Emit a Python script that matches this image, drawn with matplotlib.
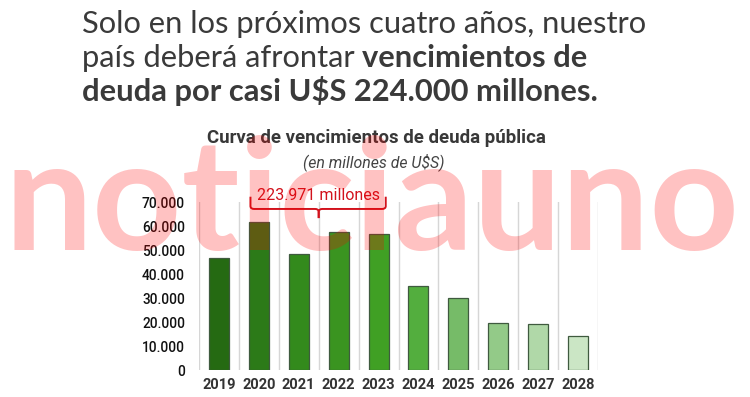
import matplotlib
matplotlib.use("Agg")
import matplotlib.pyplot as plt
import numpy as np
from matplotlib.path import Path
from matplotlib.patches import PathPatch

years = ["2019", "2020", "2021", "2022", "2023", "2024", "2025", "2026", "2027", "2028"]
values = [46500, 61800, 48200, 57500, 56500, 35000, 30100, 19700, 19000, 14200]
bar_colors = ["#256a12", "#2c7a18", "#338a1c", "#3a9420", "#40a024",
              "#53ae3e", "#76bb68", "#93ca88", "#b0d8a8", "#cbe6c5"]
y_ticks = [0, 10000, 20000, 30000, 40000, 50000, 60000, 70000]
y_tick_labels = ["0", "10.000", "20.000", "30.000", "40.000", "50.000", "60.000", "70.000"]
bracket_range = (1, 4)  # 2020..2023
bracket_label = "223.971 millones"

W, H = 750, 397
fig = plt.figure(figsize=(W / 100, H / 100), dpi=100)
fig.patch.set_facecolor("white")
renderer = fig.canvas.get_renderer()


def fit(t, target_px):
    bb = t.get_window_extent(renderer=renderer)
    t.set_fontsize(t.get_fontsize() * target_px / bb.width)


left, right, top, bottom = 199, 598, 202, 370
ax = fig.add_axes([left / W, 1 - bottom / H, (right - left) / W, (bottom - top) / H])

x = np.arange(len(years))
ax.bar(x, values, width=0.5, color=bar_colors, edgecolor="#3f5a3f", linewidth=0.9, zorder=3)
ax.set_xlim(-0.5, len(years) - 0.5)
ax.set_ylim(0, 70000)
for s in ax.spines.values():
    s.set_visible(False)
ax.set_xticks(x)
ax.set_xticklabels(years, fontfamily="Roboto", fontweight="bold", fontsize=10.5, color="#333333")
ax.set_yticks(y_ticks)
ax.set_yticklabels(y_tick_labels, fontfamily="Roboto", fontweight="medium", fontsize=9.8, color="#111111")
ax.tick_params(axis="both", length=0)
ax.tick_params(axis="x", pad=6)
ax.tick_params(axis="y", pad=10)
ax.set_xticks(np.arange(len(years) + 1) - 0.5, minor=True)
ax.tick_params(axis="x", which="minor", length=0)
ax.grid(axis="x", which="minor", color="#d6d6d6", linewidth=1.0, zorder=0)
ax.grid(axis="x", which="major", visible=False)

# bracket
red = "#d2121c"
xl = bracket_range[0] - 0.21
xr = bracket_range[1] + 0.18
xc = (bracket_range[0] + bracket_range[1]) / 2
yt, yh, yb = 72200, 67100, 63300
r = 0.06
verts = [(xl, yt), (xl, yh + 1200), (xl, yh), (xl + r * 1.5, yh),
         (xc - r * 1.5, yh), (xc, yh), (xc, yh - 1200), (xc, yb)]
codes = [Path.MOVETO, Path.LINETO, Path.CURVE3, Path.CURVE3,
         Path.LINETO, Path.CURVE3, Path.CURVE3, Path.LINETO]
verts2 = [(xr, yt), (xr, yh + 1200), (xr, yh), (xr - r * 1.5, yh),
          (xc + r * 1.5, yh), (xc, yh), (xc, yh - 1200), (xc, yb)]
for v in (verts, verts2):
    ax.add_patch(PathPatch(Path(v, codes), facecolor="none", edgecolor=red,
                           linewidth=1.4, clip_on=False, zorder=5))
tl = ax.text(xc, 72900, bracket_label, ha="center", va="center", color=red,
             fontfamily="Roboto", fontsize=11, zorder=6, clip_on=False)
fit(tl, 123)

# chart title
t1 = fig.text(376 / W, 1 - 138 / H, "Curva de vencimientos de deuda pública", ha="center", va="center",
              fontfamily="Roboto", fontweight="bold", fontsize=14, color="#383838")
fit(t1, 340)
t2 = fig.text(374 / W, 1 - 162 / H, "(en millones de U$S)", ha="center", va="center",
              fontfamily="Roboto", fontstyle="italic", fontsize=11, color="#444444")
fit(t2, 142)

# header
hcol = "#3a3a3a"
hx = 82 / W
h1 = fig.text(hx, 1 - 33 / H, "Solo en los próximos cuatro años, nuestro", ha="left", va="baseline",
              fontfamily="Lato", fontweight="normal", fontsize=22, color=hcol)
fit(h1, 563)
fs = h1.get_fontsize()
h2a = fig.text(hx, 1 - 67 / H, "país deberá afrontar ", ha="left", va="baseline",
               fontfamily="Lato", fontweight="normal", fontsize=fs, color=hcol)
bb = h2a.get_window_extent(renderer=renderer)
h2b = fig.text(bb.x1 / W, 1 - 67 / H, "vencimientos de", ha="left", va="baseline",
               fontfamily="Lato", fontweight="bold", fontsize=fs, color=hcol)
h3 = fig.text(hx, 1 - 101 / H, "deuda por casi U$S 224.000 millones.", ha="left", va="baseline",
              fontfamily="Lato", fontweight="bold", fontsize=fs, color=hcol)

# watermark
wm = fig.text(5 / W, 1 - 250 / H, "noticiauno", ha="left", va="baseline",
              fontfamily="Lato", fontweight="bold", fontsize=108, color=(1, 0, 0, 0.24), zorder=20)
fit(wm, 735)

fig.savefig("out.png", dpi=100, facecolor="white")
